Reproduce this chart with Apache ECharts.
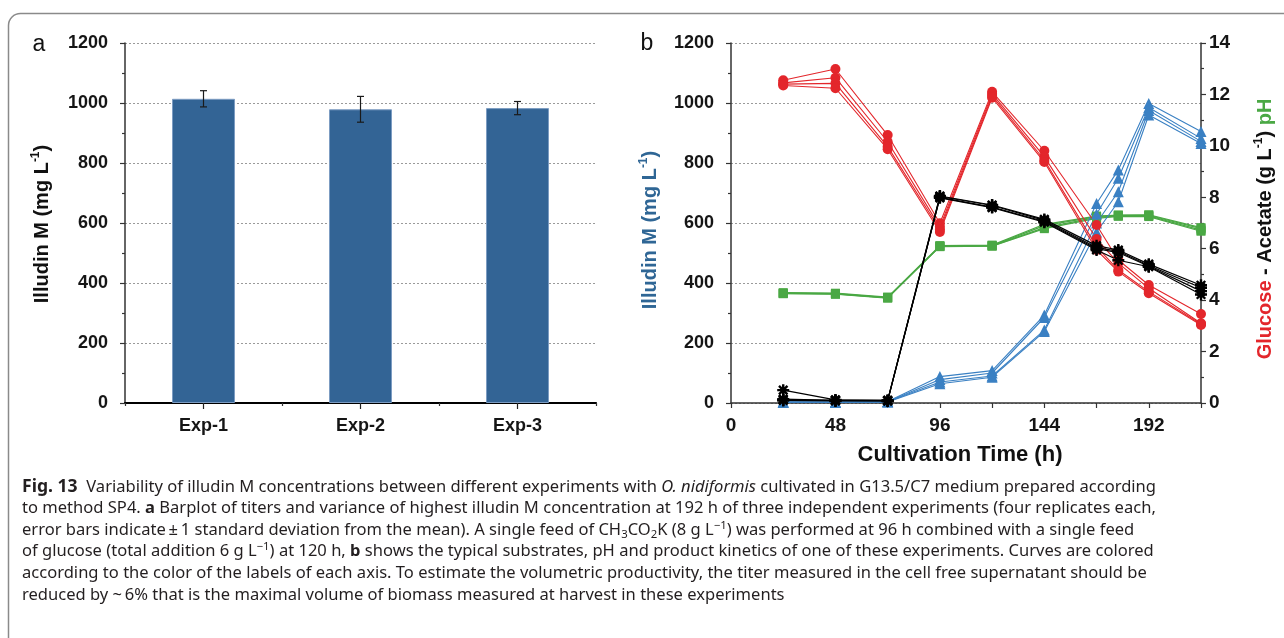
<!DOCTYPE html>
<html>
<head>
<meta charset="utf-8">
<script src="https://cdn.jsdelivr.net/npm/echarts@6/dist/echarts.min.js"></script>
<style>
  html, body { margin: 0; padding: 0; background: #fff; }
  #chart { width: 1284px; height: 638px; }
</style>
</head>
<body>
<div id="chart"></div>
<script>
// Panel a: titre at 192 h, three independent experiments
const categories = ['Exp-1', 'Exp-2', 'Exp-3'];
const illudinMean = [1014, 979, 983];
const illudinSd = [27, 43, 22];

// Panel b: kinetics of one experiment, four replicates per quantity
const hours = [24, 48, 72, 96, 120, 144, 168, 178, 192, 216];
const illudin = [
  [4, 3, 5, 88, 108, 293, 665, 777, 998, 905],
  [3, 3, 4, 78, 100, 285, 630, 749, 985, 882],
  [2, 2, 4, 70, 90, 243, 600, 704, 975, 872],
  [2, 2, 3, 64, 86, 238, 570, 671, 960, 865]
];
const glucose = [
  [12.55, 12.99, 10.42, 6.99, 12.10, 9.81, 6.92, 5.56, 4.59, 3.46],
  [12.45, 12.65, 10.16, 6.85, 12.02, 9.58, 6.38, 5.44, 4.46, 3.10],
  [12.40, 12.43, 9.97, 6.75, 11.94, 9.45, 6.08, 5.17, 4.33, 3.07],
  [12.35, 12.24, 9.87, 6.65, 11.87, 9.37, 5.95, 5.11, 4.27, 3.03]
];
const acetate = [
  [0.50, 0.12, 0.10, 8.05, 7.70, 7.14, 6.12, 5.95, 5.40, 4.58],
  [0.15, 0.10, 0.10, 8.03, 7.68, 7.10, 6.05, 5.90, 5.35, 4.48],
  [0.12, 0.10, 0.08, 8.00, 7.62, 7.06, 6.00, 5.85, 5.32, 4.35],
  [0.10, 0.08, 0.08, 7.98, 7.60, 7.03, 5.95, 5.55, 5.30, 4.22]
];
const ph = [
  [4.29, 4.27, 4.12, 6.12, 6.14, 6.95, 7.27, 7.31, 7.32, 6.82],
  [4.27, 4.25, 4.10, 6.10, 6.12, 6.90, 7.25, 7.30, 7.30, 6.78],
  [4.26, 4.24, 4.09, 6.09, 6.11, 6.82, 7.22, 7.28, 7.28, 6.72],
  [4.25, 4.23, 4.08, 6.08, 6.10, 6.78, 7.18, 7.26, 7.25, 6.68]
];

// Axis tick settings
const illudinTicks = { min: 0, max: 1200, interval: 200 };
const rightTicks = { min: 0, max: 14, interval: 2 };
const timeTicks = { min: 0, max: 216, interval: 24, labelEvery: 48 };

const BLUE_BAR = '#336495';
const BLUE = '#3a80c3';
const BLUE_TITLE = '#2f6695';
const RED = '#e3262b';
const GREEN = '#4aa844';
const AXIS = '#333';
const FONT = '"Liberation Sans", Arial, sans-serif';
const CAP_FONT = '"Noto Sans", "Open Sans", sans-serif';

// Asterisk marker (plus + cross)
const starPath = 'path://M-1,-5L1,-5L1,5L-1,5Z M-5,-1L5,-1L5,1L-5,1Z ' +
  'M4.24,2.83L2.83,4.24L-4.24,-2.83L-2.83,-4.24Z M2.83,-4.24L4.24,-2.83L-2.83,4.24L-4.24,2.83Z';

const chart = echarts.init(document.getElementById('chart'), null, { renderer: 'canvas' });

const tickLabel = (size) => ({ fontFamily: FONT, fontWeight: 'bold', fontSize: size, color: '#151515', formatter: v => String(v) });
const dotted = { show: true, lineStyle: { color: '#9a9a9a', type: [2, 2], width: 1 } };

function valueAxis(grid, t, extra) {
  return Object.assign({
    type: 'value', gridIndex: grid, min: t.min, max: t.max, interval: t.interval,
    axisLine: { show: true, onZero: false, lineStyle: { color: AXIS, width: 1.5 } },
    axisTick: { show: true, inside: false, length: 5, lineStyle: { color: AXIS, width: 1.2 } },
    minorTick: { show: true, splitNumber: 2, length: 3, lineStyle: { color: AXIS, width: 1.2 } },
    splitLine: dotted,
    axisLabel: Object.assign(tickLabel(18), { margin: 17 })
  }, extra || {});
}

// Panel b line series
const groups = [
  { rows: ph, y: 2, color: GREEN, symbol: 'rect', size: 9, width: 1.2 },
  { rows: illudin, y: 1, color: BLUE, symbol: 'triangle', size: 11, width: 1.1 },
  { rows: glucose, y: 2, color: RED, symbol: 'circle', size: 10, width: 1.1 },
  { rows: acetate, y: 2, color: '#000', symbol: starPath, size: 12, width: 1.2 }
];
const lineSeries = [];
groups.forEach(g => {
  g.rows.forEach(row => {
    lineSeries.push({
      type: 'line', xAxisIndex: 2, yAxisIndex: g.y,
      data: hours.map((h, i) => [h, row[i]]),
      symbol: g.symbol, symbolSize: g.size, showSymbol: true,
      lineStyle: { color: g.color, width: g.width },
      itemStyle: { color: g.color },
      emphasis: { disabled: true }
    });
  });
});

// Caption, each line a list of [style, text] pieces
const captionLines = [
  [['f', 'Fig. 13'], ['n', '  Variability of illudin M concentrations between different experiments with '], ['i', 'O. nidiformis'], ['n', ' cultivated in G13.5/C7 medium prepared according']],
  [['n', 'to method SP4. '], ['b', 'a'], ['n', ' Barplot of titers and variance of highest illudin M concentration at 192 h of three independent experiments (four replicates each,']],
  [['n', 'error bars indicate\u2009\u00b1\u20091 standard deviation from the mean). A single feed of CH'], ['sub', '3'], ['n', 'CO'], ['sub', '2'], ['n', 'K (8 g L'], ['sup', '\u22121'], ['n', ') was performed at 96 h combined with a single feed']],
  [['n', 'of glucose (total addition 6 g L'], ['sup', '\u22121'], ['n', ') at 120 h, '], ['b', 'b'], ['n', ' shows the typical substrates, pH and product kinetics of one of these experiments. Curves are colored']],
  [['n', 'according to the color of the labels of each axis. To estimate the volumetric productivity, the titer measured in the cell free supernatant should be']],
  [['n', 'reduced by ~\u20096% that is the maximal volume of biomass measured at harvest in these experiments']]
];
const CAP_SIZE = 16;
const CAP_COLOR = '#231f20';
const capStyles = {
  n: { fontSize: CAP_SIZE, fontFamily: CAP_FONT, fill: CAP_COLOR, lineHeight: 20 },
  f: { fontSize: 17, fontFamily: CAP_FONT, fontWeight: 'bold', fill: CAP_COLOR, lineHeight: 20 },
  b: { fontSize: CAP_SIZE, fontFamily: CAP_FONT, fontWeight: 'bold', fill: CAP_COLOR, lineHeight: 20 },
  i: { fontSize: CAP_SIZE, fontFamily: CAP_FONT, fontStyle: 'italic', fill: CAP_COLOR, lineHeight: 20 },
  sub: { fontSize: 11, fontFamily: CAP_FONT, fill: CAP_COLOR, lineHeight: 12, verticalAlign: 'bottom' },
  sup: { fontSize: 11, fontFamily: CAP_FONT, fill: CAP_COLOR, lineHeight: 12, verticalAlign: 'top' }
};
function richString(pieces) { return pieces.map(p => '{' + p[0] + '|' + p[1] + '}').join(''); }
function piecesWidth(pieces) {
  const ctx = document.createElement('canvas').getContext('2d');
  let w = 0;
  pieces.forEach(p => {
    const s = capStyles[p[0]];
    ctx.font = (s.fontStyle || 'normal') + ' ' + (s.fontWeight || 'normal') + ' ' + s.fontSize + 'px ' + s.fontFamily;
    w += ctx.measureText(p[1]).width;
  });
  return w;
}
const capLeft = 22, capRight = 1156;
const capScale = (capRight - capLeft) / piecesWidth(captionLines[0]);
const captionGraphics = captionLines.map((pieces, k) => ({
  type: 'text', x: capLeft, y: 487 + k * 21.6, scaleX: capScale, scaleY: 1,
  style: { text: richString(pieces), rich: capStyles, align: 'left', verticalAlign: 'middle' }
}));

// Rotated / plain titles
const titleRich = (color) => ({
  t: { fontSize: 20, fontWeight: 'bold', fontFamily: FONT, fill: color, lineHeight: 24 },
  s: { fontSize: 12, fontWeight: 'bold', fontFamily: FONT, fill: color, lineHeight: 12, verticalAlign: 'top' }
});
const rightRich = {
  g: { fontSize: 20, fontWeight: 'bold', fontFamily: FONT, fill: RED, lineHeight: 24 },
  k: { fontSize: 20, fontWeight: 'bold', fontFamily: FONT, fill: '#111', lineHeight: 24 },
  s: { fontSize: 12, fontWeight: 'bold', fontFamily: FONT, fill: '#111', lineHeight: 12, verticalAlign: 'top' },
  p: { fontSize: 20, fontWeight: 'bold', fontFamily: FONT, fill: GREEN, lineHeight: 24 }
};

const option = {
  animation: false,
  backgroundColor: '#fff',
  grid: [
    { left: 125, top: 43, width: 471, height: 360, containLabel: false, outerBoundsMode: 'none' },
    { left: 731, top: 43, width: 470, height: 360, containLabel: false, outerBoundsMode: 'none' }
  ],
  xAxis: [
    {
      type: 'category', gridIndex: 0, data: categories, position: 'bottom', boundaryGap: true,
      axisLine: { show: true, lineStyle: { color: '#000', width: 2.2 } },
      axisTick: { show: true, length: 3, lineStyle: { color: AXIS, width: 1.2 } },
      axisLabel: { fontFamily: FONT, fontWeight: 'bold', fontSize: 18, color: '#151515', margin: 14 },
      splitLine: { show: false }
    },
    {
      type: 'category', gridIndex: 0, data: categories, position: 'bottom', boundaryGap: true,
      axisLine: { show: false },
      axisTick: { show: true, alignWithLabel: true, length: 6, lineStyle: { color: '#222', width: 1.2 } },
      axisLabel: { show: false },
      splitLine: { show: false }
    },
    {
      type: 'value', gridIndex: 1, min: timeTicks.min, max: timeTicks.max, interval: timeTicks.interval,
      position: 'bottom',
      axisLine: { show: true, onZero: false, lineStyle: { color: AXIS, width: 1.5 } },
      axisTick: { show: true, length: 5, lineStyle: { color: AXIS, width: 1.2 } },
      splitLine: { show: false },
      axisLabel: Object.assign(tickLabel(19), {
        margin: 13,
        formatter: v => (v % timeTicks.labelEvery === 0 && v < timeTicks.max ? String(v) : '')
      })
    }
  ],
  yAxis: [
    valueAxis(0, illudinTicks),
    valueAxis(1, illudinTicks),
    valueAxis(1, rightTicks, {
      position: 'right',
      splitLine: { show: false },
      axisLabel: Object.assign(tickLabel(19), { margin: 8 })
    })
  ],
  series: [
    {
      type: 'bar', xAxisIndex: 0, yAxisIndex: 0, data: illudinMean, barWidth: 63,
      itemStyle: { color: BLUE_BAR, borderColor: '#7c9cc2', borderWidth: 1 },
      emphasis: { disabled: true }
    },
    {
      type: 'custom', xAxisIndex: 0, yAxisIndex: 0, z: 5,
      data: categories.map((c, i) => [i, illudinMean[i] - illudinSd[i], illudinMean[i] + illudinSd[i]]),
      renderItem: function (params, api) {
        const lo = api.coord([api.value(0), api.value(1)]);
        const hi = api.coord([api.value(0), api.value(2)]);
        const w = 3.5;
        const st = { stroke: '#1a1a1a', lineWidth: 1.2 };
        return {
          type: 'group', children: [
            { type: 'line', shape: { x1: lo[0], y1: lo[1], x2: hi[0], y2: hi[1] }, style: st },
            { type: 'line', shape: { x1: lo[0] - w, y1: lo[1], x2: lo[0] + w, y2: lo[1] }, style: st },
            { type: 'line', shape: { x1: hi[0] - w, y1: hi[1], x2: hi[0] + w, y2: hi[1] }, style: st }
          ]
        };
      }
    }
  ].concat(lineSeries),
  graphic: [
    {
      type: 'rect', silent: true, z: -1,
      shape: { x: 8.5, y: 13.5, width: 1400, height: 800, r: 12 },
      style: { fill: 'none', stroke: '#8a8a8a', lineWidth: 1.5 }
    },
    { type: 'text', x: 39, y: 45, style: { text: 'a', fontSize: 23, fontFamily: FONT, fill: '#111', align: 'center', verticalAlign: 'middle' } },
    { type: 'text', x: 647, y: 44, style: { text: 'b', fontSize: 23, fontFamily: FONT, fill: '#111', align: 'center', verticalAlign: 'middle' } },
    {
      type: 'text', x: 42, y: 224, rotation: Math.PI / 2,
      style: { text: '{t|Illudin M (mg L}{s|-1}{t|)}', rich: titleRich('#111'), align: 'center', verticalAlign: 'middle' }
    },
    {
      type: 'text', x: 650, y: 230, rotation: Math.PI / 2,
      style: { text: '{t|Illudin M (mg L}{s|-1}{t|)}', rich: titleRich(BLUE_TITLE), align: 'center', verticalAlign: 'middle' }
    },
    {
      type: 'text', x: 1265, y: 229, rotation: Math.PI / 2,
      style: { text: '{g|Glucose}{k| - Acetate (g L}{s|-1}{k|) }{p|pH}', rich: rightRich, align: 'center', verticalAlign: 'middle' }
    },
    {
      type: 'text', x: 960, y: 455,
      style: { text: 'Cultivation Time (h)', fontSize: 22, fontWeight: 'bold', fontFamily: FONT, fill: '#111', align: 'center', verticalAlign: 'middle' }
    }
  ].concat(captionGraphics)
};

chart.setOption(option);
</script>
</body>
</html>
